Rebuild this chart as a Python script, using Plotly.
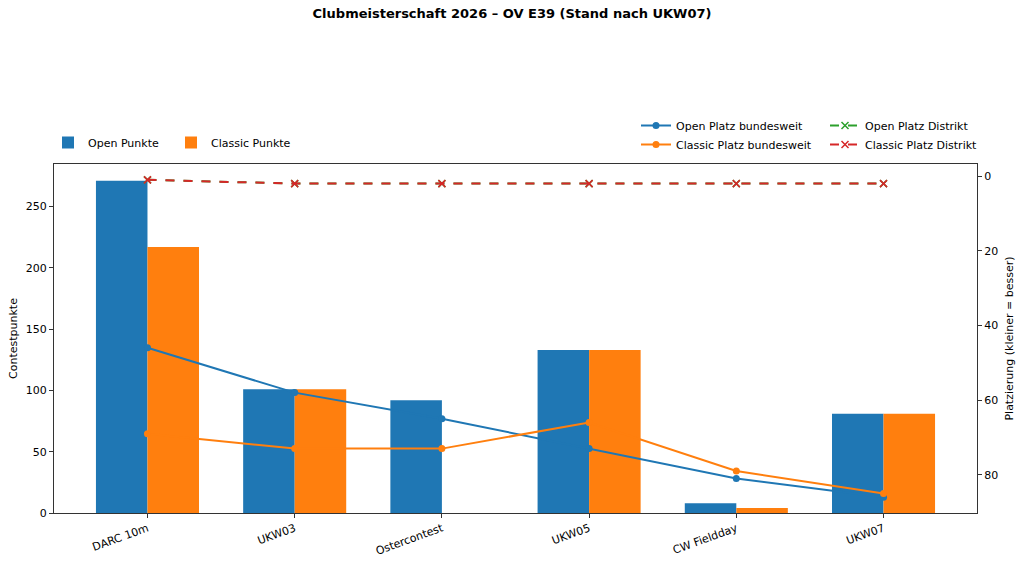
import plotly.graph_objects as go

categories = ["DARC 10m", "UKW03", "Ostercontest", "UKW05", "CW Fieldday", "UKW07"]
open_punkte = [271, 101, 92, 133, 8, 81]
classic_punkte = [217, 101, 0, 133, 4, 81]
open_platz_bund = [46, 58, 65, 73, 81, 86]
classic_platz_bund = [69, 73, 73, 66, 79, 85]
open_platz_distrikt = [1, 2, 2, 2, 2, 2]
classic_platz_distrikt = [1, 2, 2, 2, 2, 2]

xs = list(range(len(categories)))
BLUE, ORANGE, GREEN, RED = "#1f77b4", "#ff7f0e", "#2ca02c", "#d62728"
FONT = "DejaVu Sans"

fig = go.Figure()
fig.add_trace(go.Bar(x=xs, y=open_punkte, name="Open Punkte", marker_color=BLUE,
                     marker_line_width=0, legend="legend"))
fig.add_trace(go.Bar(x=xs, y=classic_punkte, name="Classic Punkte", marker_color=ORANGE,
                     marker_line_width=0, legend="legend"))

fig.add_trace(go.Scatter(x=xs, y=open_platz_bund, name="Open Platz bundesweit", yaxis="y2",
                         mode="lines+markers", line=dict(color=BLUE, width=2),
                         marker=dict(symbol="circle", size=7, color=BLUE), legend="legend2"))
fig.add_trace(go.Scatter(x=xs, y=classic_platz_bund, name="Classic Platz bundesweit", yaxis="y2",
                         mode="lines+markers", line=dict(color=ORANGE, width=2),
                         marker=dict(symbol="circle", size=7, color=ORANGE), legend="legend2"))
fig.add_trace(go.Scatter(x=xs, y=open_platz_distrikt, name="Open Platz Distrikt", yaxis="y2",
                         mode="lines+markers", line=dict(color=GREEN, width=2, dash="dash"),
                         marker=dict(symbol="x-thin", size=7, line=dict(color=GREEN, width=1.5)),
                         legend="legend3"))
fig.add_trace(go.Scatter(x=xs, y=classic_platz_distrikt, name="Classic Platz Distrikt", yaxis="y2",
                         mode="lines+markers", line=dict(color=RED, width=2, dash="dash"),
                         marker=dict(symbol="x-thin", size=7, line=dict(color=RED, width=1.5)),
                         legend="legend3"))

axis_common = dict(showline=True, linecolor="#333", linewidth=1, ticks="outside", ticklen=4,
                   tickcolor="#333", showgrid=False, zeroline=False, automargin=False,
                   tickfont=dict(family=FONT, size=11, color="#000"))

PH = 564 - 164 - 51

fig.update_layout(
    width=1024, height=564,
    margin=dict(l=54, r=47, t=164, b=51),
    paper_bgcolor="white", plot_bgcolor="white",
    font=dict(family=FONT, size=11, color="#000"),
    title=dict(text="<b>Clubmeisterschaft 2026 – OV E39 (Stand nach UKW07)</b>",
               x=0.5, xanchor="center", y=1 - 13 / 564, yanchor="middle",
               font=dict(family=FONT, size=13, color="#000")),
    barmode="group", bargap=0.3, bargroupgap=0,
    xaxis=dict(**axis_common, range=[-0.635, 5.635], tickvals=xs, ticktext=categories,
               tickangle=-20, mirror=True),
    yaxis=dict(**axis_common, range=[0, 284.6], tickvals=[0, 50, 100, 150, 200, 250],
               title=dict(text="Contestpunkte", font=dict(family=FONT, size=11), standoff=5)),
    yaxis2=dict(**axis_common, overlaying="y", side="right", range=[90.25, -3.25],
                tickvals=[0, 20, 40, 60, 80],
                title=dict(text="Platzierung (kleiner = besser)", font=dict(family=FONT, size=11),
                           standoff=8)),
    legend=dict(orientation="h", x=-6 / 923, xanchor="left", y=1 + 7 / PH, yanchor="bottom",
                entrywidth=78,
                font=dict(family=FONT, size=11), bgcolor="rgba(0,0,0,0)"),
    legend2=dict(orientation="v", x=(636 - 54) / 923, xanchor="left", y=1 + 5 / PH,
                 yanchor="bottom",
                 font=dict(family=FONT, size=11), bgcolor="rgba(0,0,0,0)", tracegroupgap=0),
    legend3=dict(orientation="v", x=(825 - 54) / 923, xanchor="left", y=1 + 5 / PH,
                 yanchor="bottom",
                 font=dict(family=FONT, size=11), bgcolor="rgba(0,0,0,0)", tracegroupgap=0),
)

fig.write_html("out.html")
